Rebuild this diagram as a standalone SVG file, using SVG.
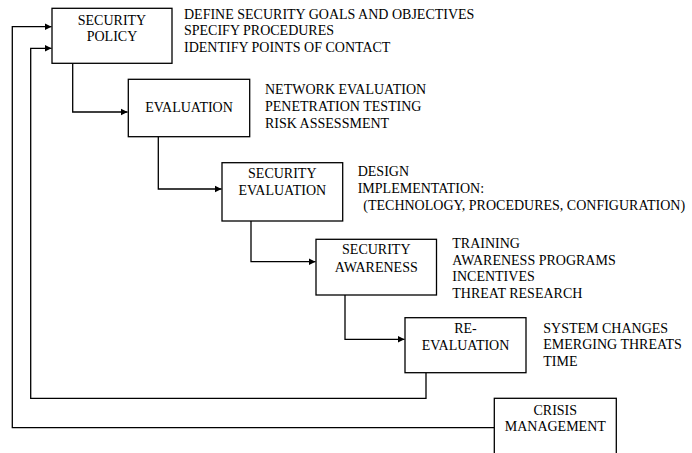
<svg xmlns="http://www.w3.org/2000/svg" width="692" height="453" viewBox="0 0 692 453">
<defs>
<style>
.box{fill:#fff;stroke:#000;stroke-width:1.3}
.con{fill:none;stroke:#000;stroke-width:1.3}
</style>
<marker id="arr" markerUnits="userSpaceOnUse" markerWidth="8" markerHeight="8" viewBox="0 0 8 8" refX="7" refY="4" orient="auto">
<path d="M0,0.5 L7,4 L0,7.5 Z" fill="#000"/>
</marker>
</defs>
<rect width="692" height="453" fill="#fff"/>
<g id="connectors">
<path class="con" d="M72.7,63.3 V112 H127.5" marker-end="url(#arr)"/>
<path class="con" d="M158.3,136.7 V189 H221.5" marker-end="url(#arr)"/>
<path class="con" d="M251,221 V261.7 H315.5" marker-end="url(#arr)"/>
<path class="con" d="M345,295 V339.3 H404.5" marker-end="url(#arr)"/>
<path class="con" d="M426,372.7 V398.3 H30.7 V48.3 H51.5" marker-end="url(#arr)"/>
<path class="con" d="M494.3,427.7 H12.3 V26.7 H51.5" marker-end="url(#arr)"/>
</g>
<g font-family="Liberation Serif, Times New Roman, serif" font-size="14" fill="#000">
<g id="security-policy">
<rect class="box" x="52" y="8.3" width="120" height="55"/>
<text text-anchor="middle" x="112" y="25">SECURITY</text>
<text text-anchor="middle" x="112" y="40.7">POLICY</text>
<text x="184" y="19">DEFINE SECURITY GOALS AND OBJECTIVES</text>
<text x="184" y="35.3">SPECIFY PROCEDURES</text>
<text x="184" y="51.7">IDENTIFY POINTS OF CONTACT</text>
</g>
<g id="evaluation">
<rect class="box" x="128.3" y="79.3" width="121.4" height="57.4"/>
<text text-anchor="middle" x="189" y="111.7">EVALUATION</text>
<text x="265" y="94">NETWORK EVALUATION</text>
<text x="265" y="110.8">PENETRATION TESTING</text>
<text x="265" y="127.6">RISK ASSESSMENT</text>
</g>
<g id="security-evaluation">
<rect class="box" x="222" y="162.7" width="120.7" height="58.3"/>
<text text-anchor="middle" x="282.3" y="178.3">SECURITY</text>
<text text-anchor="middle" x="282.3" y="195">EVALUATION</text>
<text x="357.7" y="176.3">DESIGN</text>
<text x="357.7" y="193.1">IMPLEMENTATION:</text>
<text x="363.3" y="209.9">(TECHNOLOGY, PROCEDURES, CONFIGURATION)</text>
</g>
<g id="security-awareness">
<rect class="box" x="316" y="239.3" width="120.5" height="55.7"/>
<text text-anchor="middle" x="376.3" y="254">SECURITY</text>
<text text-anchor="middle" x="376.3" y="271.7">AWARENESS</text>
<text x="452.3" y="247.7">TRAINING</text>
<text x="452.3" y="264.5">AWARENESS PROGRAMS</text>
<text x="452.3" y="281.2">INCENTIVES</text>
<text x="452.3" y="297.9">THREAT RESEARCH</text>
</g>
<g id="re-evaluation">
<rect class="box" x="405" y="317.7" width="121" height="55"/>
<text text-anchor="middle" x="465.5" y="332.7">RE-</text>
<text text-anchor="middle" x="465.5" y="350">EVALUATION</text>
<text x="543.3" y="332.7">SYSTEM CHANGES</text>
<text x="543.3" y="349.4">EMERGING THREATS</text>
<text x="543.3" y="366.1">TIME</text>
</g>
<g id="crisis-management">
<rect class="box" x="494.3" y="398.3" width="122" height="70"/>
<text text-anchor="middle" x="555.3" y="415">CRISIS</text>
<text text-anchor="middle" x="555.3" y="430.7">MANAGEMENT</text>
</g>
</g>
</svg>
